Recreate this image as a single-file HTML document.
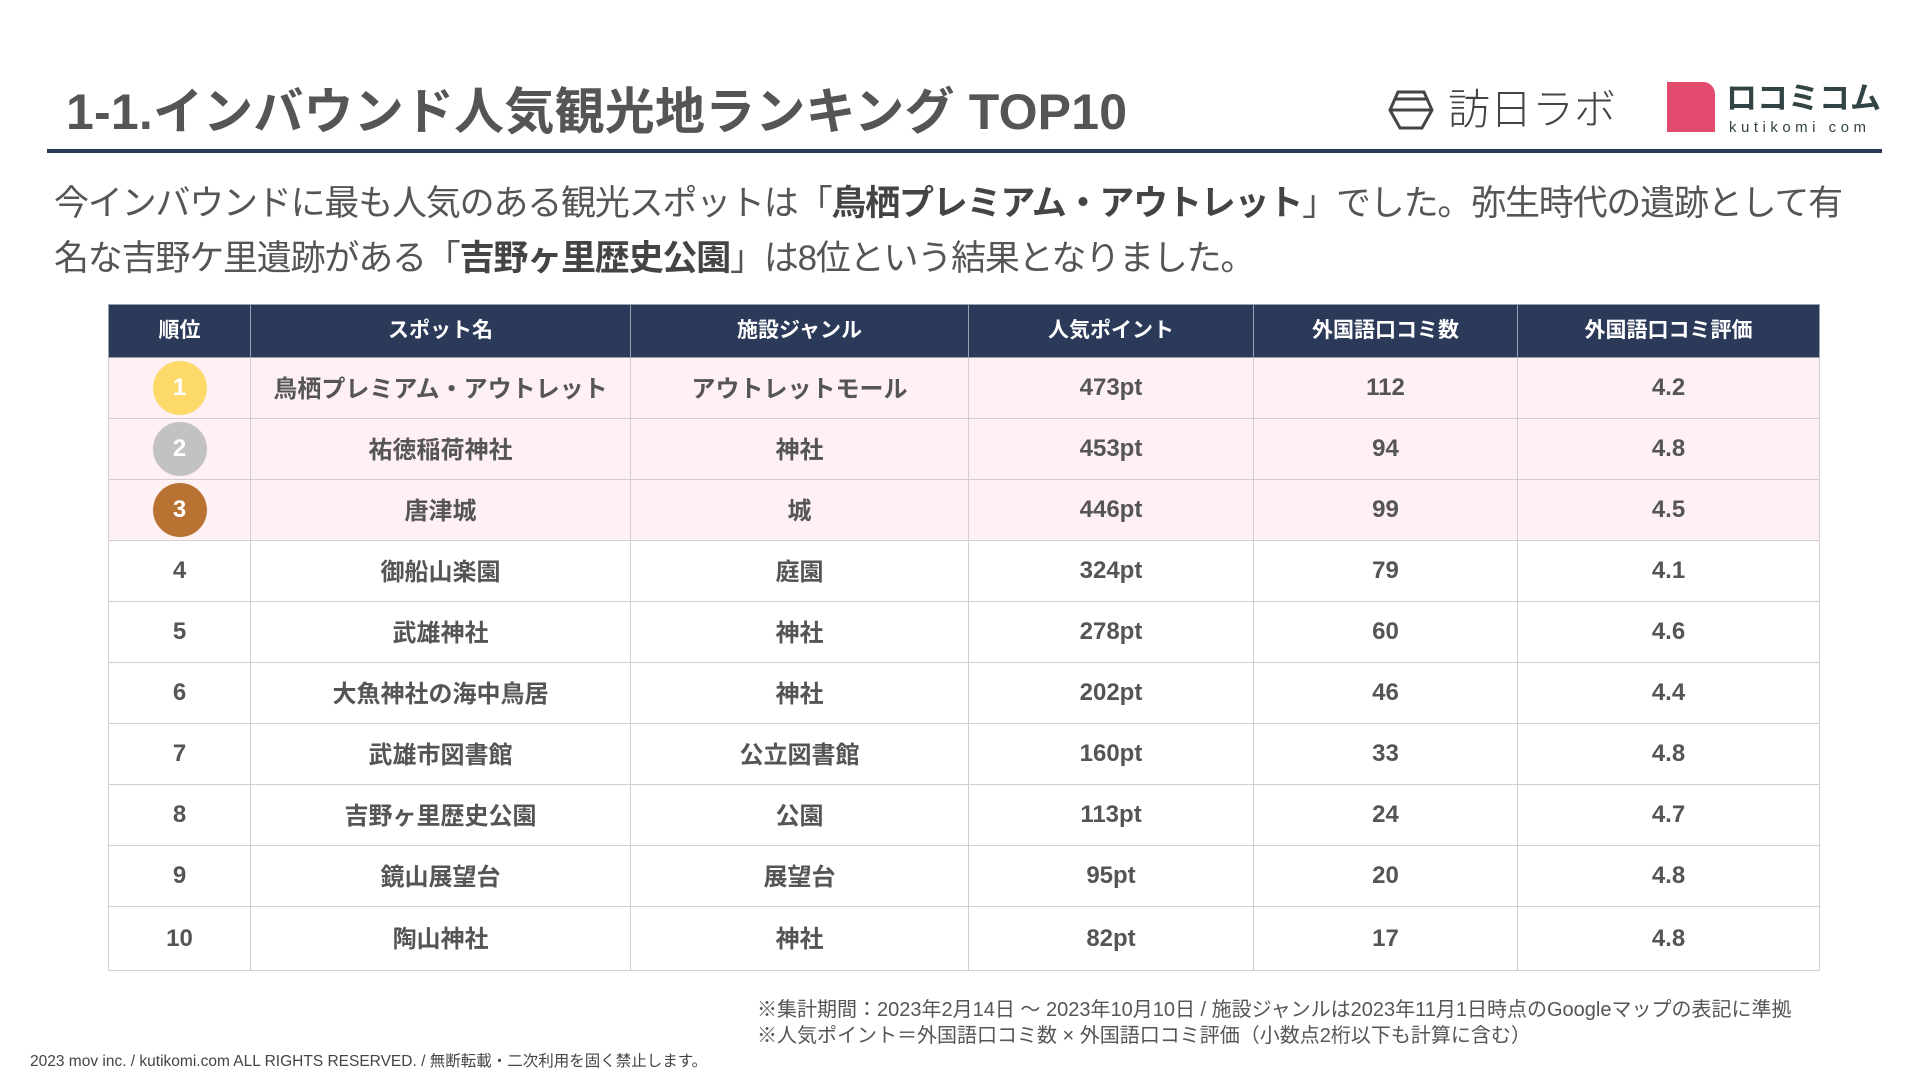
<!DOCTYPE html>
<html lang="ja"><head><meta charset="utf-8">
<style>
*{margin:0;padding:0;box-sizing:border-box}
body{width:1919px;height:1080px;background:#fff;position:relative;overflow:hidden;font-family:"Liberation Sans","Noto Sans CJK JP",sans-serif;color:#555}
.abs{position:absolute}
#title{left:66px;top:72px;font-size:50px;font-weight:bold;color:#555;white-space:nowrap;letter-spacing:0.2px}
#rule{left:47px;top:149px;width:1835px;height:4px;background:#2c3a5a}
#lead{left:54px;top:176px;font-size:35px;line-height:55px;color:#555;white-space:nowrap;letter-spacing:-1.2px}
#lead b{color:#444}
table{position:absolute;left:108px;top:304px;width:1711px;border-collapse:collapse;table-layout:fixed}
th{background:#2c3a5a;color:#fff;font-size:21px;font-weight:bold;height:53px;border:1px solid #9aa0ad;text-align:center;line-height:22px}
td{height:61px;border:1px solid #cfcfcf;text-align:center;font-size:24px;font-weight:bold;color:#555;line-height:26px;vertical-align:middle;font-family:"Noto Sans CJK JP",sans-serif;padding-bottom:3px}
td.num{font-family:"Liberation Sans",sans-serif;padding-bottom:0}
tr.top td{background:#fff0f4}
.medal{display:inline-block;width:54px;height:54px;border-radius:50%;color:#fff;line-height:54px;font-size:24px;font-weight:bold;font-family:"Liberation Sans",sans-serif;vertical-align:middle}
.note{left:757px;font-size:20px;color:#555;white-space:nowrap}
#copy{left:30px;top:1049px;font-size:15.5px;color:#444;white-space:nowrap}
</style></head><body>
<div id="title" class="abs">1-1.インバウンド人気観光地ランキング TOP10</div>
<div class="abs" style="left:1388px;top:82px;width:250px;height:50px">
<svg width="46" height="46" viewBox="0 0 46 46" style="position:absolute;left:0;top:4px"><polygon points="10,6 36,6 44,24 34,42 12,42 2,24" fill="none" stroke="#444" stroke-width="3"/><line x1="2" y1="24" x2="44" y2="24" stroke="#444" stroke-width="3"/><line x1="8" y1="13" x2="38" y2="13" stroke="#444" stroke-width="3"/></svg>
<span style="position:absolute;left:60px;top:0px;font-size:42px;line-height:50px;color:#444;white-space:nowrap;font-family:'Noto Sans CJK JP',sans-serif;font-weight:300">訪日ラボ</span></div>
<div class="abs" style="left:1667px;top:82px;width:48px;height:50px;background:#e24b6e;border-radius:0 12px 0 0"></div>
<div class="abs" style="left:1726px;top:78px;font-size:31px;line-height:36px;color:#344;font-weight:bold;white-space:nowrap;font-family:'Noto Sans CJK JP',sans-serif">ロコミコム</div>
<div class="abs" style="left:1729px;top:119px;font-size:15px;color:#344;letter-spacing:4.5px;white-space:nowrap">kutikomi com</div>
<div id="rule" class="abs"></div>
<div id="lead" class="abs">今インバウンドに最も人気のある観光スポットは「<b>鳥栖プレミアム・アウトレット</b>」でした。弥生時代の遺跡として有<br>名な吉野ケ里遺跡がある「<b>吉野ヶ里歴史公園</b>」は8位という結果となりました。</div>
<table id="tbl">
<colgroup><col style="width:142px"><col style="width:380px"><col style="width:338px"><col style="width:285px"><col style="width:264px"><col style="width:302px"></colgroup>
<thead><tr><th>順位</th><th>スポット名</th><th>施設ジャンル</th><th>人気ポイント</th><th>外国語口コミ数</th><th>外国語口コミ評価</th></tr></thead>
<tbody id="tb"></tbody></table>
<div class="abs note" style="top:993px">※集計期間：2023年2月14日 ～ 2023年10月10日 / 施設ジャンルは2023年11月1日時点のGoogleマップの表記に準拠</div>
<div class="abs note" style="top:1019px">※人気ポイント＝外国語口コミ数 × 外国語口コミ評価（小数点2桁以下も計算に含む）</div>
<div id="copy" class="abs">2023 mov inc. / kutikomi.com ALL RIGHTS RESERVED. / 無断転載・二次利用を固く禁止します。</div>
<script>
const spots=["鳥栖プレミアム・アウトレット","祐徳稲荷神社","唐津城","御船山楽園","武雄神社","大魚神社の海中鳥居","武雄市図書館","吉野ヶ里歴史公園","鏡山展望台","陶山神社"];
const genres=["アウトレットモール","神社","城","庭園","神社","神社","公立図書館","公園","展望台","神社"];
const points=[473,453,446,324,278,202,160,113,95,82];
const counts=[112,94,99,79,60,46,33,24,20,17];
const ratings=["4.2","4.8","4.5","4.1","4.6","4.4","4.8","4.7","4.8","4.8"];
const medalColors=["#fdd96a","#c2c2c2","#b87333"];
const tb=document.getElementById('tb');
spots.forEach((s,i)=>{
  const tr=document.createElement('tr');
  
  
  if(i<3)tr.className='top';
  const vals=[null,s,genres[i],points[i]+'pt',String(counts[i]),ratings[i]];
  vals.forEach((v,j)=>{
    const td=document.createElement('td');
    
    
    if(j===0||j>=3)td.className='num';
    if(j===0){
      if(i<3){
        const m=document.createElement('span');
        m.className='medal';m.style.background=medalColors[i];m.textContent=i+1;
        
        
        td.appendChild(m);
      } else td.textContent=i+1;
    } else td.textContent=v;
    tr.appendChild(td);
  });
  if(i===spots.length-1)tr.querySelectorAll('td').forEach(td=>td.style.height='64px');
  tb.appendChild(tr);
});
</script>
</body></html>
